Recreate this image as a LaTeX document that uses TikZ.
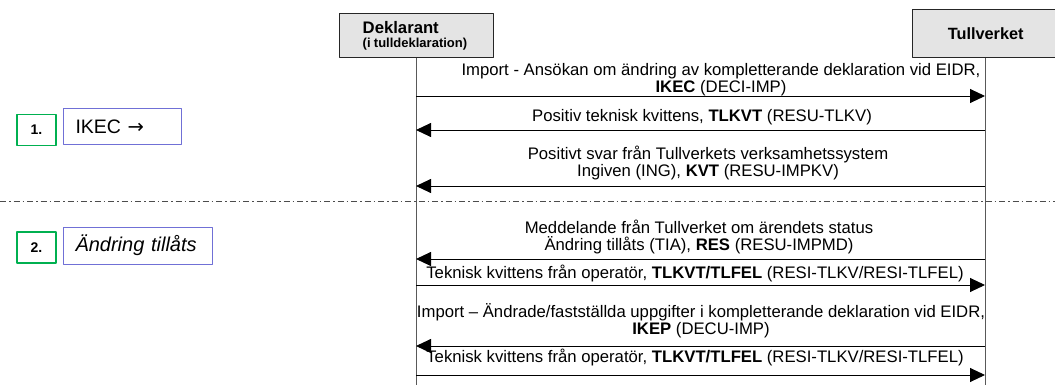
\documentclass[tikz,border=0pt]{standalone}
\usepackage{fontspec}
\setmainfont{Liberation Sans}
\newfontfamily\arrowfont{DejaVu Sans}
\usetikzlibrary{arrows.meta}
\definecolor{stepgreen}{RGB}{0,176,80}
\definecolor{statblue}{RGB}{112,112,214}
\definecolor{boxgray}{RGB}{228,228,228}
\begin{document}
\begin{tikzpicture}[x=1pt,y=-1pt,>={Triangle[length=15pt,width=14pt]},line join=round]
	\tikzset{
		actor/.style={draw=black!85,line width=1.4pt,fill=boxgray,inner sep=0pt},
		lifeline/.style={draw=black!65,line width=0.9pt},
		msg/.style={line width=0.9pt},
		msgtext/.style={font=\fontsize{16.7}{17}\selectfont,align=center,inner sep=0pt},
		stepno/.style={draw=stepgreen,line width=1.2pt,minimum width=39pt,minimum height=31pt,inner sep=0pt,font=\bfseries\fontsize{14}{16}\selectfont},
		stepstate/.style={draw=statblue,line width=1pt,anchor=west,inner xsep=12pt,inner ysep=0pt,align=left,font=\fontsize{19.5}{22}\selectfont},
	}
	%% Page size
	\useasboundingbox (0,0) rectangle (1055,385);
	\def \xd{416}
	\def \xt{985}
	%% Actors and lifelines
	\node[actor,anchor=north west,minimum width=154pt,minimum height=44pt,text width=108pt,align=left] (dekl) at (339,13)
		{\fontsize{16.7}{18}\selectfont\bfseries Deklarant\\[2pt]\fontsize{13}{14}\selectfont\bfseries (i tulldeklaration)};
	\node[actor,anchor=north west,minimum width=146pt,minimum height=48pt,font=\bfseries\fontsize{16.3}{18}\selectfont] (tull) at (912,9) {Tullverket};
	\draw[lifeline] (dekl.south) -- ++(0,330);
	\draw[lifeline] (tull.south) -- ++(0,330);
	%% Points on the lifelines
	\foreach \n/\y in {1/96,2/130,3/186,4/259,5/285,6/346,7/375} {
		\coordinate (d\n) at (\xd,\y);
		\coordinate (t\n) at (\xt,\y);
	}
	%% Messages
	\node[msgtext] (m1) at (721,80) {Import - Ansökan om ändring av kompletterande deklaration vid EIDR,\\\textbf{IKEC} (DECI-IMP)};
	\draw[msg,->] (d1) -- (t1);
	\node[msgtext] (m2) at (702,117) {Positiv teknisk kvittens, \textbf{TLKVT} (RESU-TLKV)};
	\draw[msg,->] (t2) -- (d2);
	\node[msgtext] (m3) at (708,163.5) {Positivt svar från Tullverkets verksamhetssystem\\Ingiven (ING), \textbf{KVT} (RESU-IMPKV)};
	\draw[msg,->] (t3) -- (d3);
	%% Separator
	\draw[black!70,line width=0.9pt,dash pattern=on 6pt off 3pt on 1.5pt off 3pt] (0,201) -- (1055,201);
	\node[msgtext] (m4) at (699,237.5) {Meddelande från Tullverket om ärendets status\\Ändring tillåts (TIA), \textbf{RES} (RESU-IMPMD)};
	\draw[msg,->] (t4) -- (d4);
	\node[msgtext] (m5) at (695,273) {Teknisk kvittens från operatör, \textbf{TLKVT/TLFEL} (RESI-TLKV/RESI-TLFEL)};
	\draw[msg,->] (d5) -- (t5);
	\node[msgtext] (m6) at (701,321) {Import – Ändrade/fastställda uppgifter i kompletterande deklaration vid EIDR,\\\textbf{IKEP} (DECU-IMP)};
	\draw[msg,->] (t6) -- (d6);
	\node[msgtext] (m7) at (695,357) {Teknisk kvittens från operatör, \textbf{TLKVT/TLFEL} (RESI-TLKV/RESI-TLFEL)};
	\draw[msg,->] (d7) -- (t7);
	%% Steps on the left
	\node[stepno] (n1) at (36.5,130) {1.};
	\node[stepstate,text width=94pt,minimum height=36pt] (s1) at (63,127) {IKEC {\arrowfont →}};
	\node[stepno] (n2) at (36.5,247.5) {2.};
	\node[stepstate,text width=125pt,minimum height=37pt,font=\itshape\fontsize{20}{22}\selectfont] (s2) at (63,245.5) {Ändring tillåts};
\end{tikzpicture}
\end{document}
